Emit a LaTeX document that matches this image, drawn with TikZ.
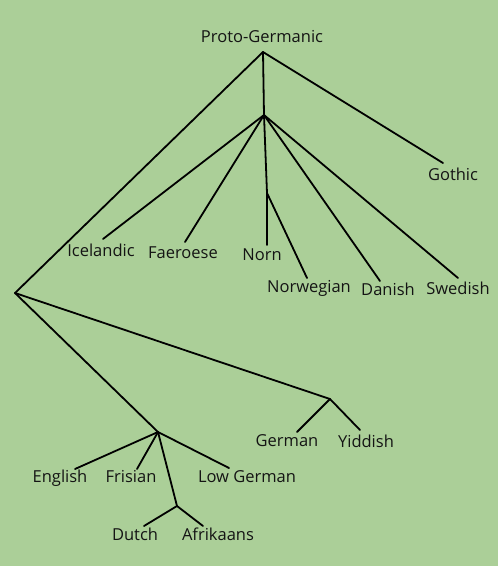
\documentclass[tikz,border=0pt]{standalone}
\usepackage{fontspec}
\setmainfont{Open Sans}
\definecolor{bg}{RGB}{171,207,152}
\definecolor{ink}{RGB}{20,20,20}
\begin{document}
\begin{tikzpicture}[x=1pt,y=-1pt,
  branch/.style={line width=1.8pt,draw=black,line cap=round},
  lang/.style={inner sep=0pt,text=ink,font=\fontsize{16.5}{19}\selectfont}]
\fill[bg] (0,0) rectangle (498,566);
\useasboundingbox (0,0) rectangle (498,566);
% labels
\node[lang] (pg) at (262,37) {Proto-Germanic};
\node[lang] (got) at (453,174) {Gothic};
\node[lang] (ice) at (101,250) {Icelandic};
\node[lang] (fae) at (183,253) {Faeroese};
\node[lang] (nrn) at (262,255) {Norn};
\node[lang] (nor) at (309,288) {Norwegian};
\node[lang] (dan) at (388,289) {Danish};
\node[lang] (swe) at (458,288) {Swedish};
\node[lang] (ger) at (287,441) {German};
\node[lang] (yid) at (366,441) {Yiddish};
\node[lang] (eng) at (60,478) {English};
\node[lang] (fri) at (131,477) {Frisian};
\node[lang] (lg) at (247,477) {Low German};
\node[lang] (dut) at (135,534) {Dutch};
\node[lang] (afr) at (218,534) {Afrikaans};
% branching points
\coordinate (root) at (263,52);
\coordinate (north) at (264,115);
\coordinate (west) at (15,293);
\coordinate (nornsplit) at (267,193);
\coordinate (hg) at (330,399);
\coordinate (af) at (158,432);
\coordinate (lf) at (177,506);
% line ends
\coordinate (gotE) at (443,163);
\coordinate (iceE) at (103,239);
\coordinate (faeE) at (185,242);
\coordinate (nrnE) at (267,245);
\coordinate (norE) at (307,278);
\coordinate (danE) at (380,281);
\coordinate (sweE) at (458,278);
\coordinate (gerE) at (297,432);
\coordinate (yidE) at (360,430);
\coordinate (engE) at (75,469);
\coordinate (friE) at (137,469);
\coordinate (lgE) at (229,468);
\coordinate (dutE) at (144,526);
\coordinate (afrE) at (203,526);
% connectors
\draw[branch] (root) -- (gotE);
\draw[branch] (root) -- (north);
\draw[branch] (root) -- (west);
\draw[branch] (north) -- (iceE);
\draw[branch] (north) -- (faeE);
\draw[branch] (north) -- (nornsplit) -- (nrnE);
\draw[branch] (nornsplit) -- (norE);
\draw[branch] (north) -- (danE);
\draw[branch] (north) -- (sweE);
\draw[branch] (west) -- (hg);
\draw[branch] (west) -- (af);
\draw[branch] (hg) -- (gerE);
\draw[branch] (hg) -- (yidE);
\draw[branch] (af) -- (engE);
\draw[branch] (af) -- (friE);
\draw[branch] (af) -- (lgE);
\draw[branch] (af) -- (lf);
\draw[branch] (lf) -- (dutE);
\draw[branch] (lf) -- (afrE);
\end{tikzpicture}
\end{document}
